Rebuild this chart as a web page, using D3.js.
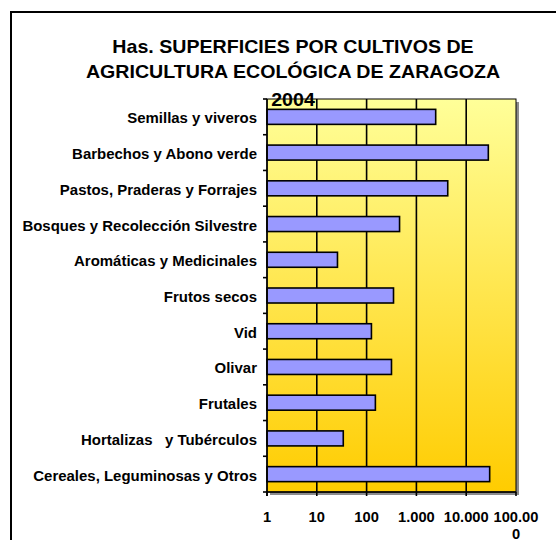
<!DOCTYPE html>
<html><head><meta charset="utf-8">
<script src="https://cdn.jsdelivr.net/npm/d3@7"></script>
<style>
html,body{margin:0;padding:0;background:#fff;}
svg{display:block;}
text{font-family:"Liberation Sans",Arial,sans-serif;font-weight:bold;fill:#000;white-space:pre;}
</style></head>
<body>
<script>
const titleLines = ["Has. SUPERFICIES POR CULTIVOS DE", "AGRICULTURA ECOLÓGICA DE ZARAGOZA", "2004"];
const categories = [
  "Semillas y viveros",
  "Barbechos y Abono verde",
  "Pastos, Praderas y Forrajes",
  "Bosques y Recolección Silvestre",
  "Aromáticas y Medicinales",
  "Frutos secos",
  "Vid",
  "Olivar",
  "Frutales",
  "Hortalizas   y Tubérculos",
  "Cereales, Leguminosas y Otros"
];
const values = [2440, 27800, 4260, 459, 26, 347, 125, 316, 150, 34, 29600];
const tickValues = [1, 10, 100, 1000, 10000, 100000];
const tickLabels = ["1", "10", "100", "1.000", "10.000", "100.000"];

const W = 556, H = 540;
const svg = d3.select("body").append("svg").attr("width", W).attr("height", H);

// outer chart frame (extends beyond the viewport)
svg.append("rect").attr("x", 11).attr("y", 12).attr("width", 600).attr("height", 600)
  .attr("fill", "#fff").attr("stroke", "#000").attr("stroke-width", 2);

const pL = 267, pR = 516, pT = 99, pB = 492;
const x = d3.scaleLog().domain([1, 100000]).range([pL, pR]);
const y = d3.scaleBand().domain(categories).range([pT, pB]).padding(0);

const defs = svg.append("defs");
const grad = defs.append("linearGradient").attr("id", "bg").attr("x1", 0).attr("y1", 0).attr("x2", 0).attr("y2", 1);
grad.append("stop").attr("offset", "0%").attr("stop-color", "#FFFF99");
grad.append("stop").attr("offset", "100%").attr("stop-color", "#FFCC00");

// shadow
svg.append("rect").attr("x", pL + 3).attr("y", pT + 3).attr("width", pR - pL).attr("height", pB - pT)
  .attr("fill", "#8c8c8c");
svg.append("rect").attr("x", pL).attr("y", pT).attr("width", pR - pL).attr("height", pB - pT)
  .attr("fill", "url(#bg)").attr("stroke", "#000").attr("stroke-width", 1);

// vertical gridlines
svg.append("g").selectAll("line").data(tickValues.slice(1, -1)).join("line")
  .attr("x1", d => x(d)).attr("x2", d => x(d)).attr("y1", pT).attr("y2", pB)
  .attr("stroke", "#000").attr("stroke-width", 1.6);

// bars
const barH = 15;
svg.append("g").selectAll("rect").data(categories).join("rect")
  .attr("x", x(1))
  .attr("y", (c) => y(c) + (y.bandwidth() - barH) / 2)
  .attr("width", (c, i) => x(values[i]) - x(1))
  .attr("height", barH)
  .attr("fill", "#9999FF").attr("stroke", "#000").attr("stroke-width", 1.6);

// y axis
const yAxisG = svg.append("g");
yAxisG.append("line").attr("x1", pL).attr("x2", pL).attr("y1", pT).attr("y2", pB + 4)
  .attr("stroke", "#000").attr("stroke-width", 1.6);
const bounds = categories.map(c => y(c)).concat([pB]);
yAxisG.selectAll("line.t").data(bounds).join("line").attr("class", "t")
  .attr("x1", pL - 4).attr("x2", pL).attr("y1", d => d).attr("y2", d => d)
  .attr("stroke", "#000").attr("stroke-width", 1.6);
yAxisG.selectAll("text").data(categories).join("text")
  .attr("transform", c => `translate(257,${y(c) + y.bandwidth() / 2 + 6.5}) scale(1.07,1)`)
  .attr("text-anchor", "end").attr("font-size", 14).text(c => c);

// x axis
const xAxisG = svg.append("g");
xAxisG.append("line").attr("x1", pL).attr("x2", pR).attr("y1", pB).attr("y2", pB)
  .attr("stroke", "#000").attr("stroke-width", 1.6);
xAxisG.selectAll("line.t").data(tickValues).join("line").attr("class", "t")
  .attr("x1", d => x(d)).attr("x2", d => x(d)).attr("y1", pB).attr("y2", pB + 4)
  .attr("stroke", "#000").attr("stroke-width", 1.6);
xAxisG.selectAll("text").data(tickValues).join("text")
  .attr("transform", d => `translate(${x(d)},521.5) scale(1.05,1)`)
  .attr("text-anchor", "middle").attr("font-size", 14)
  .each(function(d, i) {
    const lab = tickLabels[i];
    const t = d3.select(this);
    if (lab.length > 6) {
      t.append("tspan").attr("x", 0).attr("y", 0).text(lab.slice(0, 6));
      t.append("tspan").attr("x", 0).attr("y", 18).text(lab.slice(6));
    } else {
      t.text(lab);
    }
  });

// title
const titleY = [53, 78, 105.5];
svg.append("g").selectAll("text").data(titleLines).join("text")
  .attr("transform", (d, i) => `translate(293,${titleY[i]}) scale(1.09,1)`)
  .attr("text-anchor", "middle").attr("font-size", 18).text(d => d);
</script>
</body></html>
